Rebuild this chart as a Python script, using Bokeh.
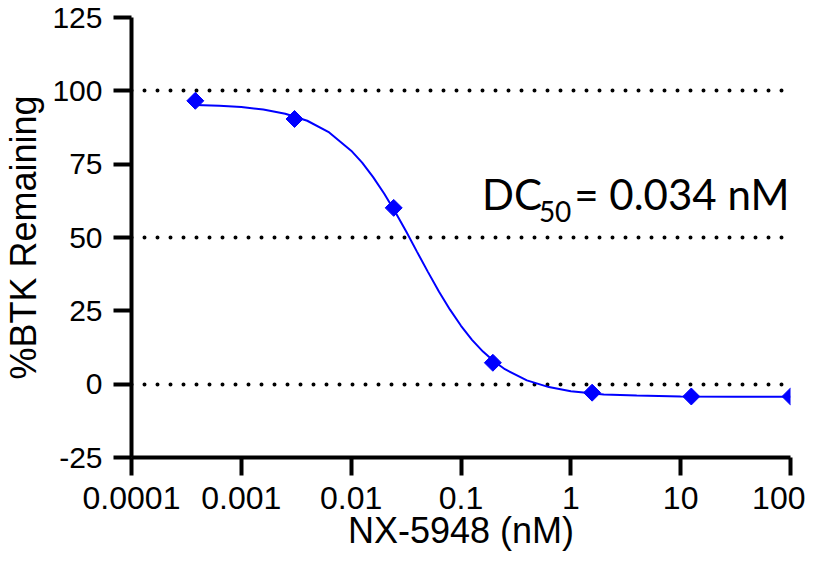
from bokeh.plotting import figure
from bokeh.models import FixedTicker, Label, CustomJSTickFormatter
from bokeh.embed import file_html
from bokeh.resources import INLINE

# ---- data ----
conc_nM = [0.000381, 0.00305, 0.0244, 0.195, 1.5625, 12.5, 100.0]
btk_remaining = [96.6, 90.4, 60.1, 7.3, -2.9, -4.2, -4.2]

# fitted curve, points
fit_conc_nM = [0.00038, 0.000631, 0.001, 0.001585, 0.002512, 0.003981,
               0.00631, 0.01, 0.01259, 0.01585, 0.01995, 0.02512,
               0.03162, 0.03981, 0.05012, 0.0631, 0.07943, 0.1,
               0.1259, 0.1585, 0.1995, 0.2512, 0.3981, 0.631,
               1.0, 1.995, 3.981, 10.0, 31.62, 100.0]
fit_remaining = [95.2, 94.9, 94.5, 93.6, 92.2, 89.8,
                 85.8, 79.6, 75.5, 70.6, 65.0, 58.8,
                 52.1, 45.1, 38.2, 31.5, 25.4, 19.9,
                 15.1, 11.1, 7.8, 5.1, 1.3, -1.0,
                 -2.4, -3.5, -3.9, -4.2, -4.3, -4.3]

x_ticks = [0.0001, 0.001, 0.01, 0.1, 1, 10, 100]
x_tick_labels = ["0.0001", "0.001", "0.01", "0.1", "1", "10", "100"]
y_ticks = [-25, 0, 25, 50, 75, 100, 125]
dotted_levels = [0, 50, 100]

x_title = "NX-5948 (nM)"
y_title = "%BTK Remaining"

BLUE = "#0000FF"
AXIS_FONT = "Liberation Sans"
ANN_FONT = "Lato"

p = figure(width=805, height=553, x_axis_type="log",
           x_range=(0.0001, 100), y_range=(-25, 125),
           output_backend="svg", toolbar_location=None,
           min_border_left=130, min_border_right=15,
           min_border_top=17, min_border_bottom=96)
p.outline_line_color = None
p.background_fill_color = "white"
p.border_fill_color = "white"

# dotted reference lines
p.xgrid.visible = False
p.ygrid.ticker = FixedTicker(ticks=dotted_levels)
p.ygrid.grid_line_color = "black"
p.ygrid.grid_line_width = 4
p.ygrid.grid_line_dash = "0 13"
p.ygrid.grid_line_cap = "round"

# axes
for ax in (p.xaxis[0], p.yaxis[0]):
    ax.axis_line_width = 4
    ax.axis_line_color = "black"
    ax.major_tick_line_width = 4
    ax.major_tick_line_color = "black"
    ax.major_tick_in = 0
    ax.major_tick_out = 18
    ax.minor_tick_line_color = None
    ax.major_label_text_font = AXIS_FONT
    ax.major_label_text_color = "black"
    ax.axis_label_text_font = AXIS_FONT
    ax.axis_label_text_font_style = "normal"
    ax.axis_label_text_font_size = "36px"
    ax.axis_label_text_color = "black"

p.xaxis.ticker = FixedTicker(ticks=x_ticks)
p.xaxis.formatter = CustomJSTickFormatter(args=dict(labels=x_tick_labels),
                                          code="return labels[index];")
p.yaxis.ticker = FixedTicker(ticks=y_ticks)
p.yaxis.formatter = CustomJSTickFormatter(code="return tick.toString();")
p.xaxis.major_label_text_font_size = "32px"
p.yaxis.major_label_text_font_size = "30px"
p.xaxis.major_label_standoff = 11
p.yaxis.major_label_standoff = 11

p.xaxis.axis_label = x_title
p.yaxis.axis_label = y_title
p.xaxis.axis_label_standoff = -2
p.yaxis.axis_label_standoff = 5

# fit curve and data points
p.line(fit_conc_nM, fit_remaining, line_color=BLUE, line_width=2)
p.scatter(conc_nM, btk_remaining, marker="square", size=12, angle=45,
          angle_units="deg", fill_color=BLUE, line_color=BLUE)

# DC50 annotation
p.add_layout(Label(x=0.1552, y=65.0, text="DC", text_font=ANN_FONT,
                   text_font_size="42px", text_color="black",
                   text_baseline="alphabetic"))
p.add_layout(Label(x=0.5118, y=58.7, text="50", text_font=ANN_FONT,
                   text_font_size="28px", text_color="black",
                   text_baseline="alphabetic"))
p.add_layout(Label(x=97.9, y=65.0, text="= 0.034 nM", text_font=ANN_FONT,
                   text_font_size="42px", text_color="black",
                   text_align="right", text_baseline="alphabetic"))

open("out.html", "w").write(file_html(p, INLINE))
